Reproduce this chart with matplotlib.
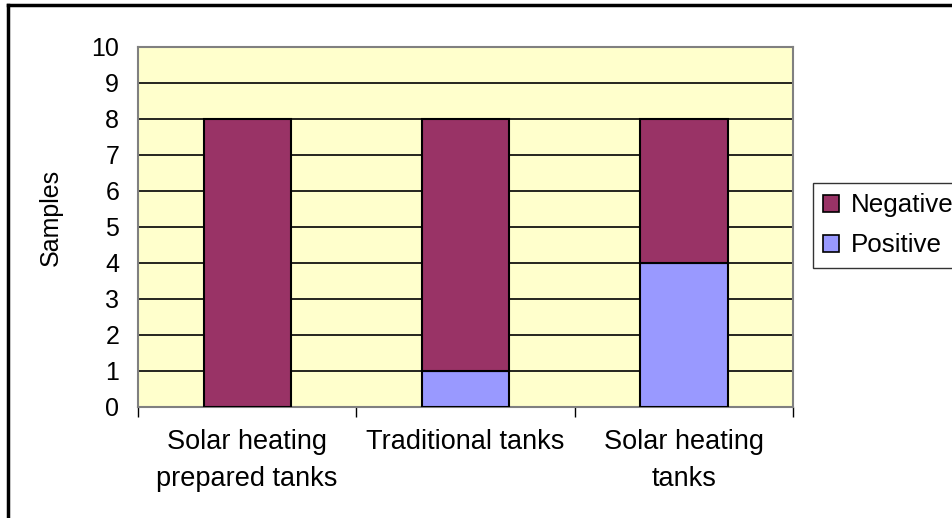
import matplotlib
matplotlib.use("Agg")
import matplotlib.pyplot as plt
from matplotlib.patches import Patch
from matplotlib.lines import Line2D

categories = ["Solar heating\nprepared tanks", "Traditional tanks", "Solar heating\ntanks"]
negative = [8, 7, 4]
positive = [0, 1, 4]
yticks = list(range(0, 11))

plt.rcParams['font.family'] = ['Liberation Sans', 'DejaVu Sans']
FS = 18

W, H = 952, 518
fig = plt.figure(figsize=(W / 100, H / 100), dpi=100)
ax = fig.add_axes([138 / W, 1 - 407 / H, (793 - 138) / W, (407 - 47) / H])
ax.set_facecolor("#FFFFCC")

x = list(range(len(categories)))
ax.bar(x, positive, width=0.4, color="#9999FF", edgecolor="black", linewidth=1.5, zorder=3)
ax.bar(x, negative, width=0.4, bottom=positive, color="#993366", edgecolor="black", linewidth=1.5, zorder=3)

ax.set_xlim(-0.5, len(categories) - 0.5)
ax.set_ylim(0, 10)
ax.set_yticks(yticks)
ax.set_yticklabels([str(v) for v in yticks], fontsize=FS)
ax.tick_params(axis='y', length=0, pad=13.5)
ax.set_xticks(x)
ax.set_xticklabels(categories, fontsize=19.5, linespacing=1.55)
ax.tick_params(axis='x', which='major', length=0, pad=16)
ax.set_xticks([i - 0.5 for i in range(len(categories) + 1)], minor=True)
ax.tick_params(axis='x', which='minor', length=7, width=1, color='black', direction='out')

ax.yaxis.grid(True, color='black', linewidth=1.2, zorder=1)
ax.set_axisbelow(True)
for s in ax.spines.values():
    s.set_color('#808080')
    s.set_linewidth(1.5)

ax.set_ylabel("Samples", fontsize=FS)
ax.yaxis.set_label_coords((63 - 138) / (793 - 138), (407 - 217) / (407 - 47))

handles = [Patch(facecolor="#993366", edgecolor="black", linewidth=1.2),
           Patch(facecolor="#9999FF", edgecolor="black", linewidth=1.2)]
leg = fig.legend(handles, ["Negative", "Positive"], loc='upper left',
                 bbox_to_anchor=(813 / W, 1 - 183 / H), fontsize=18.7,
                 frameon=True, fancybox=False, edgecolor='black',
                 handlelength=0.62, handleheight=0.62, handletextpad=0.45,
                 borderpad=0.4, labelspacing=0.62, borderaxespad=0)
leg.get_frame().set_linewidth(1.0)

fig.add_artist(Line2D([8 / W, 8 / W], [0, 1 - 5 / H], transform=fig.transFigure, color='black', linewidth=2.5))
fig.add_artist(Line2D([8 / W, 1], [1 - 5 / H, 1 - 5 / H], transform=fig.transFigure, color='black', linewidth=2.5))

fig.savefig("out.png", dpi=100)
